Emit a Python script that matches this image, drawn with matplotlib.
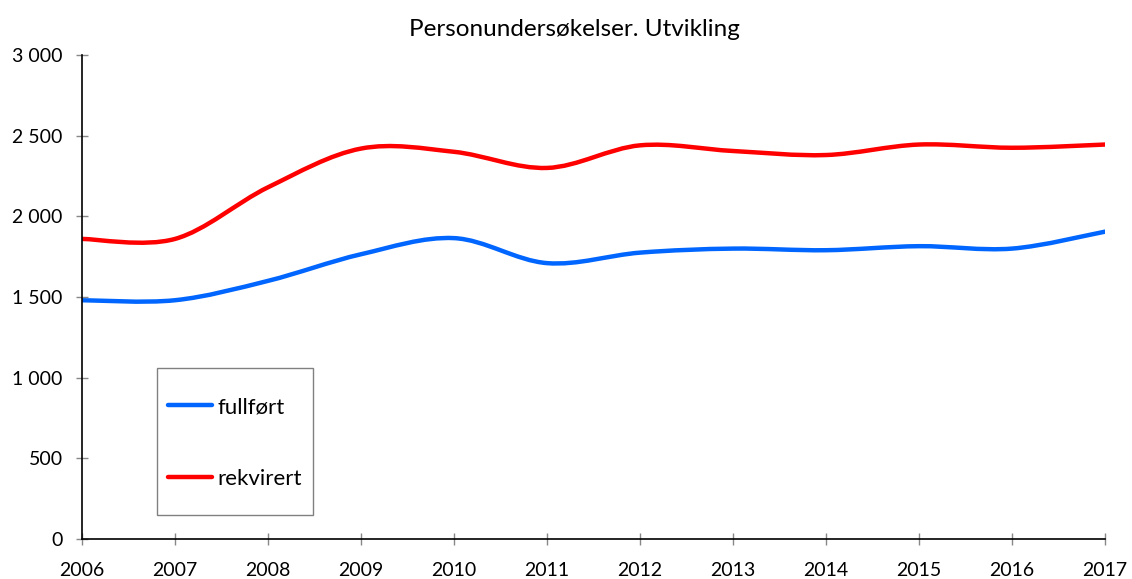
import matplotlib.pyplot as plt
import matplotlib
from matplotlib.path import Path
from matplotlib.patches import PathPatch, Rectangle
from matplotlib.lines import Line2D
from matplotlib.ticker import FuncFormatter
import numpy

years = [2006, 2007, 2008, 2009, 2010, 2011, 2012, 2013, 2014, 2015, 2016, 2017]
fullfort = [1480, 1480, 1600, 1765, 1865, 1710, 1775, 1800, 1790, 1815, 1800, 1905]
rekvirert = [1860, 1860, 2180, 2420, 2400, 2300, 2440, 2405, 2380, 2445, 2425, 2445]
labels = ['fullført', 'rekvirert']

BLUE = '#0066ff'
RED = '#ff0000'
W, H = 1132, 579


def smooth_path(xs, ys):
    # bezier segments like the "smoothed line" option in spreadsheets
    pts = numpy.column_stack([xs, ys]).astype(float)
    n = len(pts)
    verts = [pts[0]]
    codes = [Path.MOVETO]
    for i in range(n - 1):
        p0 = pts[max(i - 1, 0)]
        p1 = pts[i]
        p2 = pts[i + 1]
        p3 = pts[min(i + 2, n - 1)]
        c1 = p1 + (p2 - p0) / 6
        c2 = p2 - (p3 - p1) / 6
        verts += [c1, c2, p2]
        codes += [Path.CURVE4] * 3
    return Path(verts, codes)


def fx(px):
    return px / W


def fy(py):
    return 1 - py / H


matplotlib.rcParams.update({'font.family': ['Lato', 'DejaVu Sans']})
matplotlib.rcParams.update({'font.size': 14})

fig = plt.figure(figsize=(W / 100, H / 100), dpi=100)
ax = fig.add_axes([fx(82), fy(539), (1105 - 82) / W, (539 - 55) / H])

for ys, col in [(fullfort, BLUE), (rekvirert, RED)]:
    patch = PathPatch(smooth_path(years, ys), facecolor='none', edgecolor=col,
                      linewidth=3.2, capstyle='round', joinstyle='round')
    ax.add_patch(patch)

ax.set_xlim(years[0], years[-1])
ax.set_ylim(0, 3000)
ax.set_xticks(years)
ax.set_yticks(range(0, 3001, 500))
ax.yaxis.set_major_formatter(FuncFormatter(lambda v, p: f'{int(v):,}'.replace(',', ' ')))

for s in ['top', 'right']:
    ax.spines[s].set_visible(False)
for s in ['left', 'bottom']:
    ax.spines[s].set_color('black')
    ax.spines[s].set_linewidth(1.2)

ax.tick_params(axis='both', direction='inout', length=9, color='#888888', width=1,
               labelsize=14, labelcolor='black')
ax.tick_params(axis='y', pad=9.5)
ax.tick_params(axis='x', pad=12)

fig.text(fx(574), fy(36), 'Personundersøkelser. Utvikling',
         ha='center', va='baseline', fontsize=17.5)

# legend box drawn by hand to get the wide row spacing
fig.patches.append(Rectangle((fx(157), fy(515)), (313 - 157) / W, (515 - 368) / H,
                             transform=fig.transFigure, facecolor='white',
                             edgecolor='#808080', linewidth=1, zorder=5))
for lab, col, yl in [(labels[0], BLUE, 405), (labels[1], RED, 477)]:
    fig.lines.append(Line2D([fx(168), fx(212)], [fy(yl), fy(yl)], transform=fig.transFigure,
                            color=col, linewidth=3.2, solid_capstyle='round', zorder=6))
    fig.text(fx(217), fy(yl + 8), lab, ha='left', va='baseline', fontsize=16, zorder=6)

fig.savefig('out.png', dpi=100)
